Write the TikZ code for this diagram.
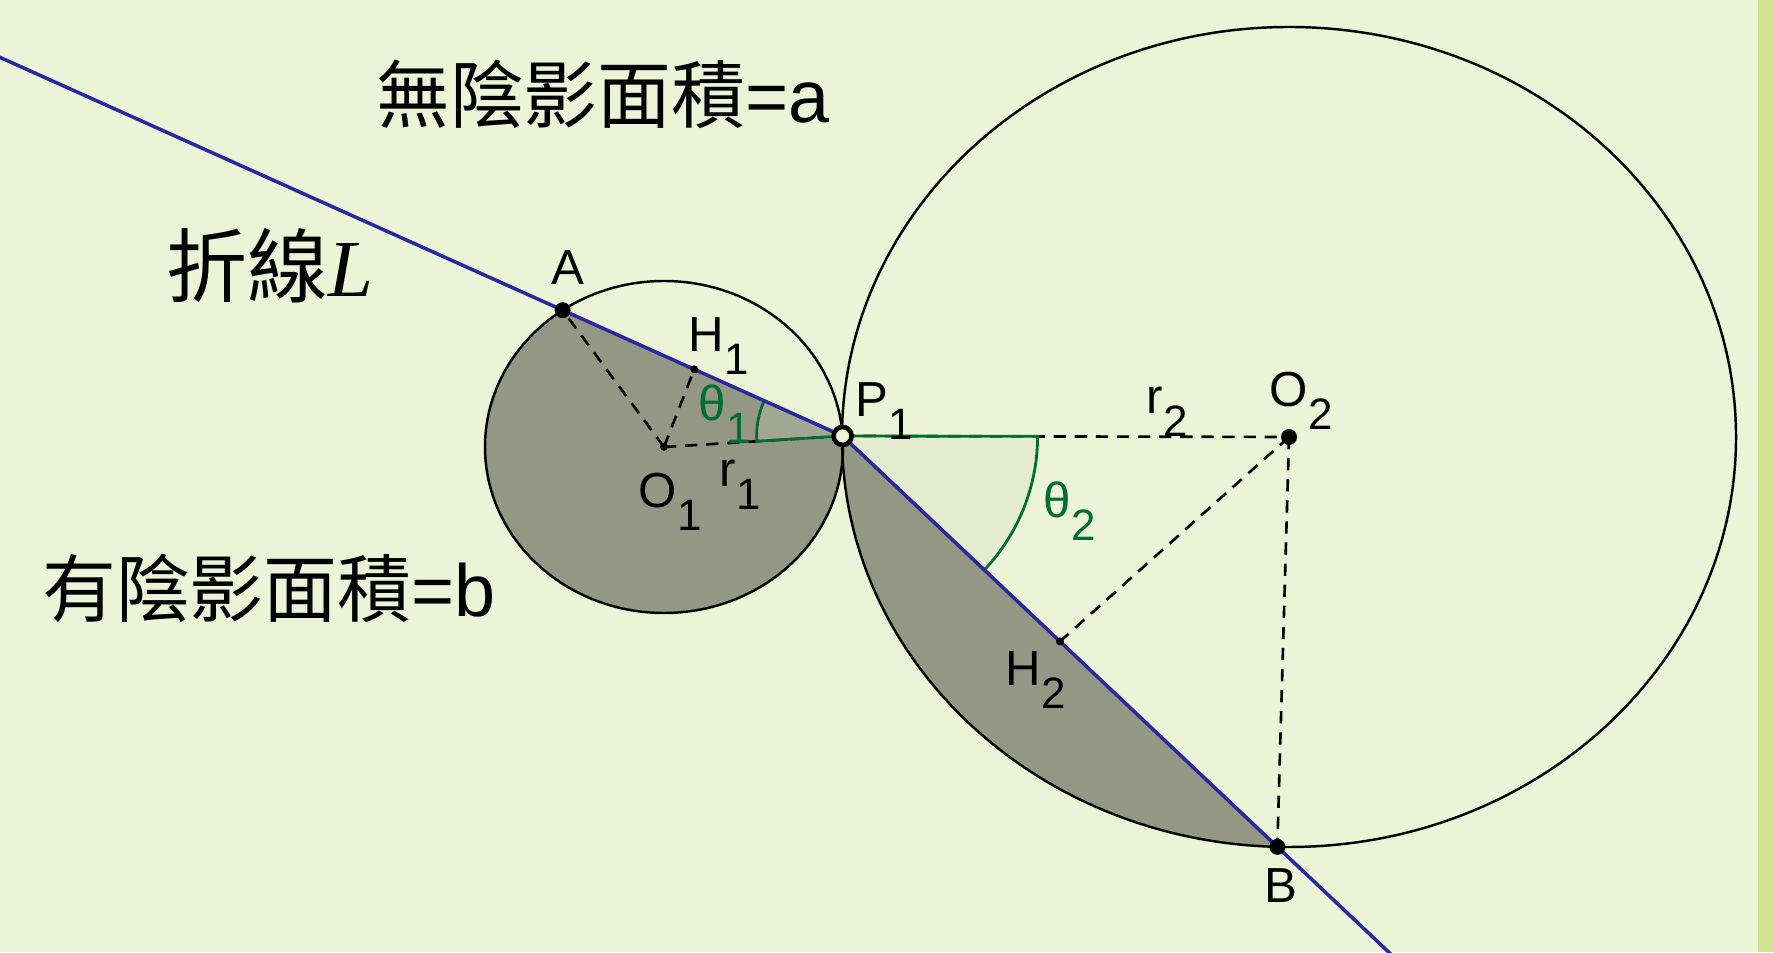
\documentclass[tikz,border=0pt]{standalone}
\usepackage{fontspec}
\setmainfont{Liberation Sans}
\newfontfamily\cjk{Noto Sans CJK TC}
\newfontfamily\serifit{Liberation Serif}
\usetikzlibrary{calc}

\definecolor{bgcol}{RGB}{236,243,214}
\definecolor{stripcol}{RGB}{212,228,148}
\definecolor{shadecol}{RGB}{148,151,132}
\definecolor{linecol}{RGB}{40,40,160}
\definecolor{anglecol}{RGB}{0,110,50}
\definecolor{anglefillcol}{RGB}{205,215,190}

% point label with a lowered index
\newcommand{\lab}[2]{#1\raisebox{-0.45em}{\fontsize{12.5}{13}\selectfont #2}}

\tikzset{
  circ/.style={line width=0.7pt},
  dashline/.style={line width=0.75pt, dash pattern=on 3.5pt off 2.5pt},
  anglemark/.style={draw=anglecol, line width=0.8pt, fill=anglefillcol, fill opacity=0.25},
  ptlabel/.style={inner sep=0pt, anchor=base west, font=\fontsize{14}{16}\selectfont},
  bigtext/.style={inner sep=0pt, font=\fontsize{21}{24}\selectfont}
}

\begin{document}
\begin{tikzpicture}[x=0.01cm,y=0.01cm]

% background
\fill[bgcol] (0,0) rectangle (1774,952);
\fill[stripcol] (1758,0) rectangle (1774,952);
\useasboundingbox (0,0) rectangle (1774,952);
\clip (0,0) rectangle (1774,952);

% centres and points
\coordinate (O1) at (664,505);
\coordinate (O2) at (1289,515);
\coordinate (A) at ($(O1)+(124.5:179 and 166)$);
\coordinate (P1) at ($(O1)+(3.8:179 and 166)$);
\coordinate (B) at ($(O2)+(268.5:447 and 410)$);
\coordinate (H1) at ($(A)!0.47!(P1)$);
\coordinate (H2) at ($(P1)!0.5!(B)$);

% shaded parts
\fill[shadecol] (A) -- (P1) arc[start angle=3.8, end angle=-235.5, x radius=179, y radius=166] -- cycle;
\fill[shadecol] (P1) -- (B) arc[start angle=268.5, end angle=179.9, x radius=447, y radius=410] -- cycle;

% circles
\draw[circ] (O1) ellipse[x radius=179, y radius=166];
\draw[circ] (O2) ellipse[x radius=447, y radius=410];

% dashed radii
\draw[dashline] (O1) -- (A);
\draw[dashline] (O1) -- (H1);
\draw[dashline] (O1) -- (P1);
\draw[dashline] (P1) -- (O2);
\draw[dashline] (O2) -- (H2);
\draw[dashline] (O2) -- (B);

% angles
\draw[anglemark] (P1) -- ++(183.5:86) arc[start angle=183.5, end angle=155.8, radius=86] -- cycle;
\draw[anglemark] (P1) -- ++(-0.1:195) arc[start angle=-0.1, end angle=-43.4, radius=195] -- cycle;

% broken line L
\draw[linecol, line width=1pt] ($(P1)!3.1!(A)$) -- (P1) -- ($(P1)!1.3!(B)$);

% points
\fill (A) circle[radius=8];
\fill (O2) circle[radius=8];
\fill (B) circle[radius=8];
\fill (O1) circle[radius=4];
\fill (H1) circle[radius=4];
\fill (H2) circle[radius=4];
\draw[line width=1.3pt, fill=bgcol] (P1) circle[radius=9];

% point labels
\node[ptlabel] (labA) at (551,667) {A};
\node[ptlabel] (labH1) at (688,600) {\lab{H}{1}};
\node[ptlabel] (labP1) at (855,535) {\lab{P}{1}};
\node[ptlabel] (labO1) at (638,444) {\lab{O}{1}};
\node[ptlabel] (labr1) at (719,465) {\lab{r}{1}};
\node[ptlabel, text=anglecol] (labt1) at (698,531) {\lab{θ}{1}};
\node[ptlabel] (labr2) at (1146,538) {\lab{r}{2}};
\node[ptlabel] (labO2) at (1269,545) {\lab{O}{2}};
\node[ptlabel, text=anglecol] (labt2) at (1043,434) {\lab{θ}{2}};
\node[ptlabel] (labH2) at (1005,266) {\lab{H}{2}};
\node[ptlabel] (labB) at (1264,50) {B};

% area texts
\node[bigtext] (noshade) at (603,858) {{\cjk 無陰影面積}=a};
\node[bigtext, font=\fontsize{23}{26}\selectfont] (lineL) at (270,686) {{\cjk 折線}{\serifit\itshape L}};
\node[bigtext] (shade) at (269,364) {{\cjk 有陰影面積}=b};

\end{tikzpicture}
\end{document}
